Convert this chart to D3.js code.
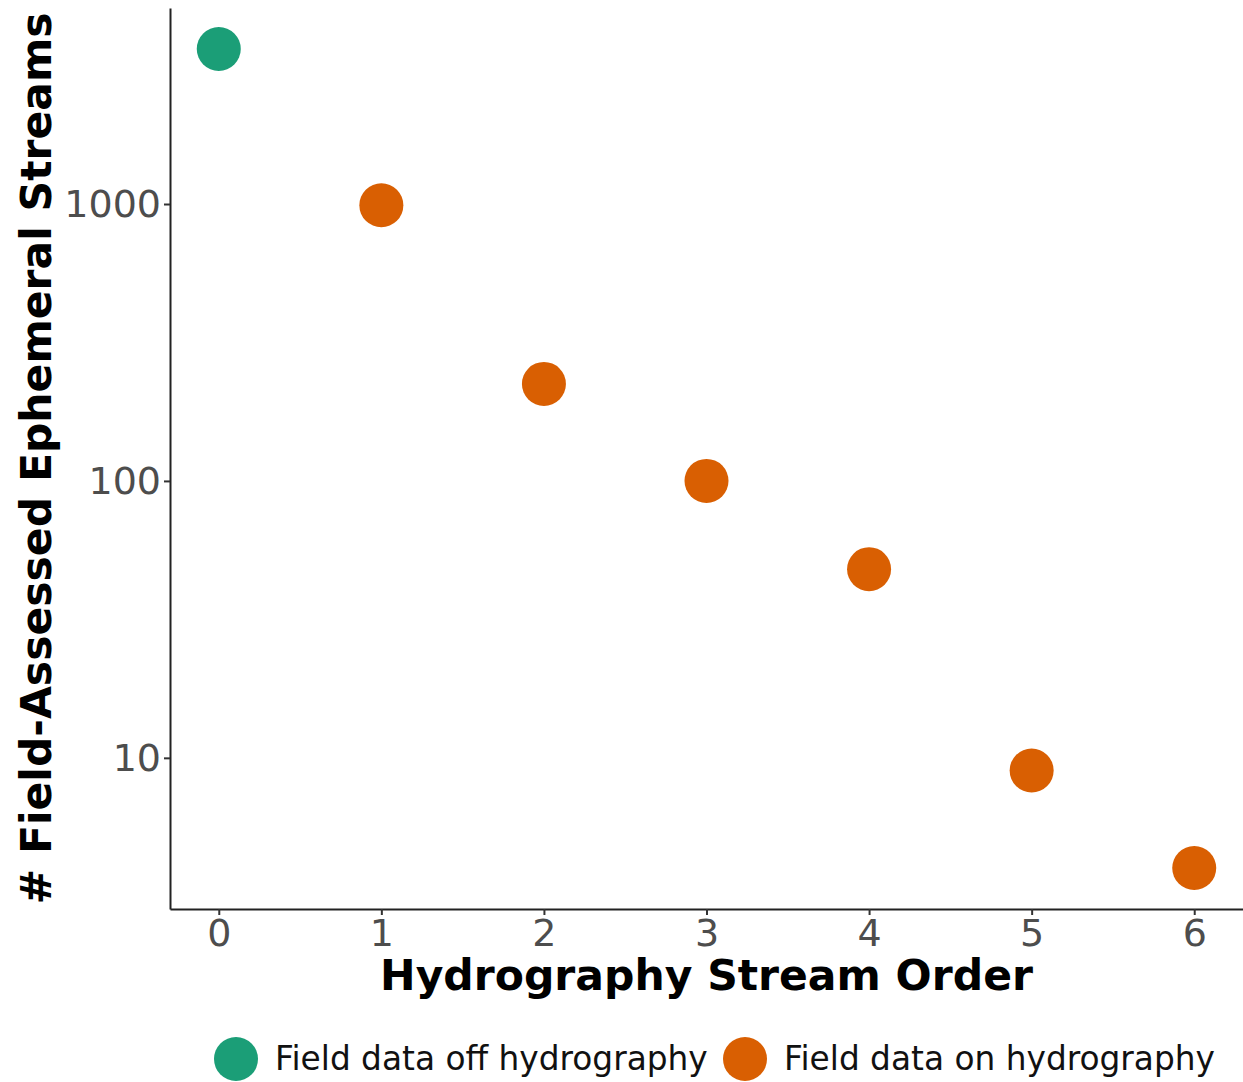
<!DOCTYPE html>
<html>
<head>
<meta charset="utf-8">
<script src="https://cdn.jsdelivr.net/npm/d3@7"></script>
<style>
  body { margin: 0; background: #fff; }
  text { font-family: "DejaVu Sans", sans-serif; }
</style>
</head>
<body>
<div id="chart"></div>
<script>
// stream order vs count of field-assessed ephemeral streams
var orders = [0, 1, 2, 3, 4, 5, 6];
var counts = [3630, 990, 224, 100, 48, 9, 4];
var groups = ["off", "on", "on", "on", "on", "on", "on"];
var groupLabels = ["Field data off hydrography", "Field data on hydrography"];
var groupKeys = ["off", "on"];
var yTicks = [10, 100, 1000];

var W = 1243, H = 1082;
var margin = {top: 8, right: 0, bottom: 173, left: 170},
	width = W - margin.left - margin.right,
	height = H - margin.top - margin.bottom;

var color = d3.scaleOrdinal().domain(groupKeys).range(["#1b9e77", "#d95f02"]);

var svg = d3.select("#chart")
	.append("svg")
	.attr("width", W)
	.attr("height", H);

var g = svg.append("g")
	.attr("transform", "translate(" + margin.left + "," + margin.top + ")");

// ggplot style 5% expansion
var x = d3.scaleLinear().domain([-0.3, 6.3]).range([0, width]);
var lmin = Math.log10(d3.min(counts)), lmax = Math.log10(d3.max(counts));
var pad = (lmax - lmin) * 0.05;
var y = d3.scaleLog()
	.domain([Math.pow(10, lmin - pad), Math.pow(10, lmax + pad)])
	.range([height, 0]);

var xAxis = g.append("g")
	.attr("transform", "translate(0," + height + ")")
	.call(d3.axisBottom(x).tickValues(orders).tickFormat(d3.format("d")).tickSize(6).tickSizeOuter(0));

var yAxis = g.append("g")
	.call(d3.axisLeft(y).tickValues(yTicks).tickFormat(d3.format("d")).tickSize(6).tickSizeOuter(0));

[xAxis, yAxis].forEach(function(a) {
	a.select(".domain").attr("stroke", "#222").attr("stroke-width", 2);
	a.selectAll(".tick line").attr("stroke", "#333").attr("stroke-width", 2);
	a.selectAll(".tick text")
		.attr("fill", "#4d4d4d")
		.style("font-size", "38px")
		.style("font-family", "DejaVu Sans");
});
xAxis.selectAll(".tick text").attr("dy", "0.75em").attr("y", 8);
yAxis.selectAll(".tick text").attr("x", -9);

g.selectAll(".pt")
	.data(orders)
	.enter().append("circle")
	.attr("class", "pt")
	.attr("cx", function(d) { return x(d); })
	.attr("cy", function(d, i) { return y(counts[i]); })
	.attr("r", 22)
	.attr("fill", function(d, i) { return color(groups[i]); });

// axis titles
svg.append("text")
	.attr("x", margin.left + width / 2)
	.attr("y", 990)
	.attr("text-anchor", "middle")
	.style("font-size", "42.5px")
	.style("font-weight", "bold")
	.text("Hydrography Stream Order");

svg.append("text")
	.attr("transform", "translate(51," + (margin.top + height / 2) + ") rotate(-90)")
	.attr("text-anchor", "middle")
	.style("font-size", "42.5px")
	.style("font-weight", "bold")
	.text("# Field-Assessed Ephemeral Streams");

// legend
var legendX = [236, 745];
var legend = svg.selectAll(".leg")
	.data(groupKeys)
	.enter().append("g")
	.attr("class", "leg")
	.attr("transform", function(d, i) { return "translate(" + legendX[i] + ",1059)"; });

legend.append("circle")
	.attr("r", 22)
	.attr("fill", function(d) { return color(d); });

legend.append("text")
	.attr("x", 39)
	.attr("dy", "0.35em")
	.style("font-size", "32.8px")
	.attr("fill", "#111")
	.text(function(d, i) { return groupLabels[i]; });
</script>
</body>
</html>
